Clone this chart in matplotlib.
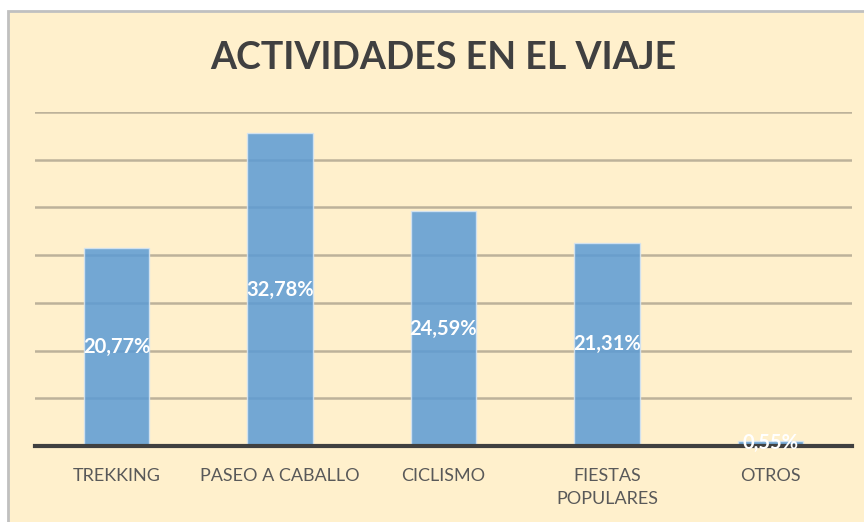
import matplotlib
matplotlib.use('Agg')
from matplotlib import pyplot as plt
from matplotlib.patches import Rectangle

plt.rcParams['font.family'] = ['Lato', 'DejaVu Sans']

# datos
actividades = ['TREKKING', 'PASEO A CABALLO', 'CICLISMO', 'FIESTAS\nPOPULARES', 'OTROS']
porcentajes = [20.77, 32.78, 24.59, 21.31, 0.55]
etiquetas = ['20,77%', '32,78%', '24,59%', '21,31%', '0,55%']

fondo = '#FFF0CC'
azul = '#5B9BD5'

fig = plt.figure(figsize=(8.64, 5.22), dpi=100)
fig.patch.set_facecolor('white')
# marco del grafico (se sale por la derecha y por abajo)
fig.patches.append(Rectangle((8 / 864, -0.1), 1.2, 1.1 - 11 / 522, transform=fig.transFigure,
                             facecolor=fondo, edgecolor='#C0C0C0', linewidth=2, zorder=-1))

ax = fig.add_axes([35 / 864, 1 - 446 / 522, 817 / 864, 334 / 522])
ax.set_facecolor('none')
ax.set_zorder(1)

x = range(len(actividades))
bars = ax.bar(x, porcentajes, width=0.4, color=azul, alpha=0.85,
              edgecolor='#D6E6F4', linewidth=1, zorder=3)

for b, lab in zip(bars, etiquetas):
    h = b.get_height()
    ax.text(b.get_x() + b.get_width() / 2, h / 2, lab, ha='center', va='center',
            color='white', fontsize=14.5, fontweight='bold', zorder=5)

ax.set_xlim(-0.5, 4.5)
ax.set_ylim(0, 35)
ax.set_yticks(range(0, 36, 5))
ax.yaxis.grid(True, color='#BDB29A', linewidth=1.8, zorder=1)
ax.set_axisbelow(True)
ax.set_yticklabels([])
ax.tick_params(axis='y', length=0)
ax.set_xticks(list(x))
ax.set_xticklabels(actividades, fontsize=13, color='#595959', linespacing=1.55)
ax.tick_params(axis='x', length=0, pad=16)

for s in ['top', 'right', 'left']:
    ax.spines[s].set_visible(False)
ax.spines['bottom'].set_color('#404040')
ax.spines['bottom'].set_linewidth(3)
ax.spines['bottom'].set_zorder(4)

fig.text(443 / 864, 1 - 58 / 522, 'ACTIVIDADES EN EL VIAJE', ha='center', va='center',
         fontsize=27, fontweight='bold', color='#404040')

fig.savefig('out.png', dpi=100, facecolor=fig.get_facecolor())
